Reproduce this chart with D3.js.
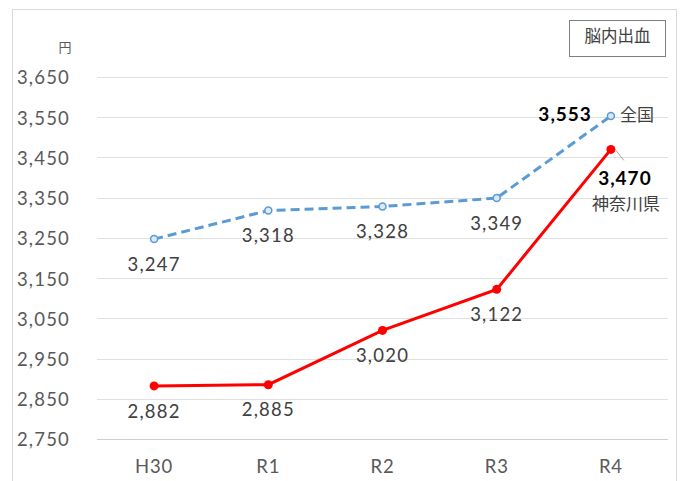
<!DOCTYPE html>
<html>
<head>
<meta charset="utf-8">
<script src="https://cdn.jsdelivr.net/npm/d3@7"></script>
<style>
  html, body { margin: 0; padding: 0; background: #fff; }
  svg { display: block; }
  text { font-family: Lato, "Noto Sans CJK JP", sans-serif; }
</style>
</head>
<body>
<svg id="chart" width="682" height="481"></svg>
<script>
// Annual cost per case of intracerebral hemorrhage (yen)
const categories = ["H30", "R1", "R2", "R3", "R4"];
const nationalValues = [3247, 3318, 3328, 3349, 3553];
const kanagawaValues = [2882, 2885, 3020, 3122, 3470];
const yTicks = [2750, 2850, 2950, 3050, 3150, 3250, 3350, 3450, 3550, 3650];
const seriesNames = ["全国", "神奈川県"];
const unitLabel = "円";
const legendTitle = "脳内出血";

const svg = d3.select("#chart");
const plot = { left: 97, right: 668, top: 77, bottom: 439 };
const numFont = { size: 18.5, spacing: 1.2 };
const cjk = "'Noto Sans CJK JP', sans-serif";

// outer frame
svg.append("rect").attr("x", 12.5).attr("y", 9.5).attr("width", 664).attr("height", 490)
  .attr("fill", "none").attr("stroke", "#d9d9d9").attr("stroke-width", 1);

const x = d3.scaleBand().domain(categories).range([plot.left, plot.right]);
const y = d3.scaleLinear().domain([2750, 3650]).range([plot.bottom, plot.top]);
const cx = d => x(d) + x.bandwidth() / 2;

// gridlines
svg.append("g").selectAll("line").data(yTicks).join("line")
  .attr("x1", plot.left).attr("x2", plot.right)
  .attr("y1", d => Math.round(y(d)) + 0.5).attr("y2", d => Math.round(y(d)) + 0.5)
  .attr("stroke", d => d === 2750 ? "#cfcfcf" : "#e0e0e0").attr("stroke-width", 1);

// y axis labels
const yAxis = d3.axisLeft(y).tickValues(yTicks).tickFormat(d3.format(",")).tickSize(0).tickPadding(0);
const gy = svg.append("g").attr("transform", `translate(70,1)`).call(yAxis);
gy.select(".domain").remove();
gy.selectAll("text").attr("font-size", numFont.size).attr("fill", "#595959")
  .attr("letter-spacing", numFont.spacing).attr("font-family", "Lato, sans-serif");

// x axis labels
const xAxis = d3.axisBottom(x).tickSize(0).tickPadding(0);
const gx = svg.append("g").attr("transform", `translate(0,467)`).call(xAxis);
gx.select(".domain").remove();
gx.selectAll("text").attr("font-size", numFont.size).attr("fill", "#595959")
  .attr("letter-spacing", 0.8).attr("dy", "0.35em");

// unit
svg.append("text").attr("x", 65).attr("y", 48).attr("text-anchor", "middle")
  .attr("dominant-baseline", "middle").attr("font-size", 13).attr("fill", "#595959")
  .style("font-family", cjk).text(unitLabel);

// legend box
svg.append("rect").attr("x", 569.5).attr("y", 20.5).attr("width", 96).attr("height", 36)
  .attr("fill", "#fff").attr("stroke", "#7f7f7f").attr("stroke-width", 1);
svg.append("text").attr("x", 617.5).attr("y", 38).attr("text-anchor", "middle")
  .attr("dominant-baseline", "middle").attr("font-size", 16.5).attr("fill", "#404040")
  .style("font-family", cjk).text(legendTitle);

const line = d3.line().x((d, i) => cx(categories[i])).y(d => y(d));

// national series (dashed)
svg.append("path").datum(nationalValues).attr("d", line)
  .attr("fill", "none").attr("stroke", "#5b9bd5").attr("stroke-width", 3)
  .attr("stroke-dasharray", "9,5");
svg.append("g").selectAll("circle").data(nationalValues).join("circle")
  .attr("cx", (d, i) => cx(categories[i])).attr("cy", d => y(d)).attr("r", 3.5)
  .attr("fill", "#dbe8f5").attr("stroke", "#5b9bd5").attr("stroke-width", 1.5);

// Kanagawa series
svg.append("path").datum(kanagawaValues).attr("d", line)
  .attr("fill", "none").attr("stroke", "#ff0000").attr("stroke-width", 3);
svg.append("g").selectAll("circle").data(kanagawaValues).join("circle")
  .attr("cx", (d, i) => cx(categories[i])).attr("cy", d => y(d)).attr("r", 4.5)
  .attr("fill", "#ff0000");

const fmt = d3.format(",");
const last = categories.length - 1;

// value labels below points (all but the last year)
function valueLabels(values) {
  svg.append("g").selectAll("text").data(values.slice(0, last)).join("text")
    .attr("x", (d, i) => cx(categories[i])).attr("y", d => y(d) + 27)
    .attr("text-anchor", "middle").attr("dominant-baseline", "middle")
    .attr("font-size", numFont.size).attr("letter-spacing", numFont.spacing)
    .attr("fill", "#404040").text(d => fmt(d));
}
valueLabels(nationalValues);
valueLabels(kanagawaValues);

// last-year labels with series names
const lx = cx(categories[last]);
svg.append("text").attr("x", lx - 19).attr("y", y(nationalValues[last]))
  .attr("text-anchor", "end").attr("dominant-baseline", "middle")
  .attr("font-size", 19).attr("letter-spacing", 1).attr("font-weight", "bold").attr("fill", "#000")
  .text(fmt(nationalValues[last]));
svg.append("text").attr("x", lx + 9).attr("y", y(nationalValues[last]))
  .attr("dominant-baseline", "middle").attr("font-size", 17).attr("fill", "#404040")
  .style("font-family", cjk).text(seriesNames[0]);

svg.append("line").attr("x1", lx + 5).attr("y1", y(kanagawaValues[last]) + 1)
  .attr("x2", lx + 13).attr("y2", y(kanagawaValues[last]) + 11)
  .attr("stroke", "#a6a6a6").attr("stroke-width", 1);
svg.append("text").attr("x", lx + 14).attr("y", y(kanagawaValues[last]) + 31)
  .attr("text-anchor", "middle").attr("dominant-baseline", "middle")
  .attr("font-size", 19).attr("letter-spacing", 1).attr("font-weight", "bold").attr("fill", "#000")
  .text(fmt(kanagawaValues[last]));
svg.append("text").attr("x", lx + 15).attr("y", y(kanagawaValues[last]) + 56)
  .attr("text-anchor", "middle").attr("dominant-baseline", "middle")
  .attr("font-size", 17).attr("fill", "#404040")
  .style("font-family", cjk).text(seriesNames[1]);
</script>
</body>
</html>
